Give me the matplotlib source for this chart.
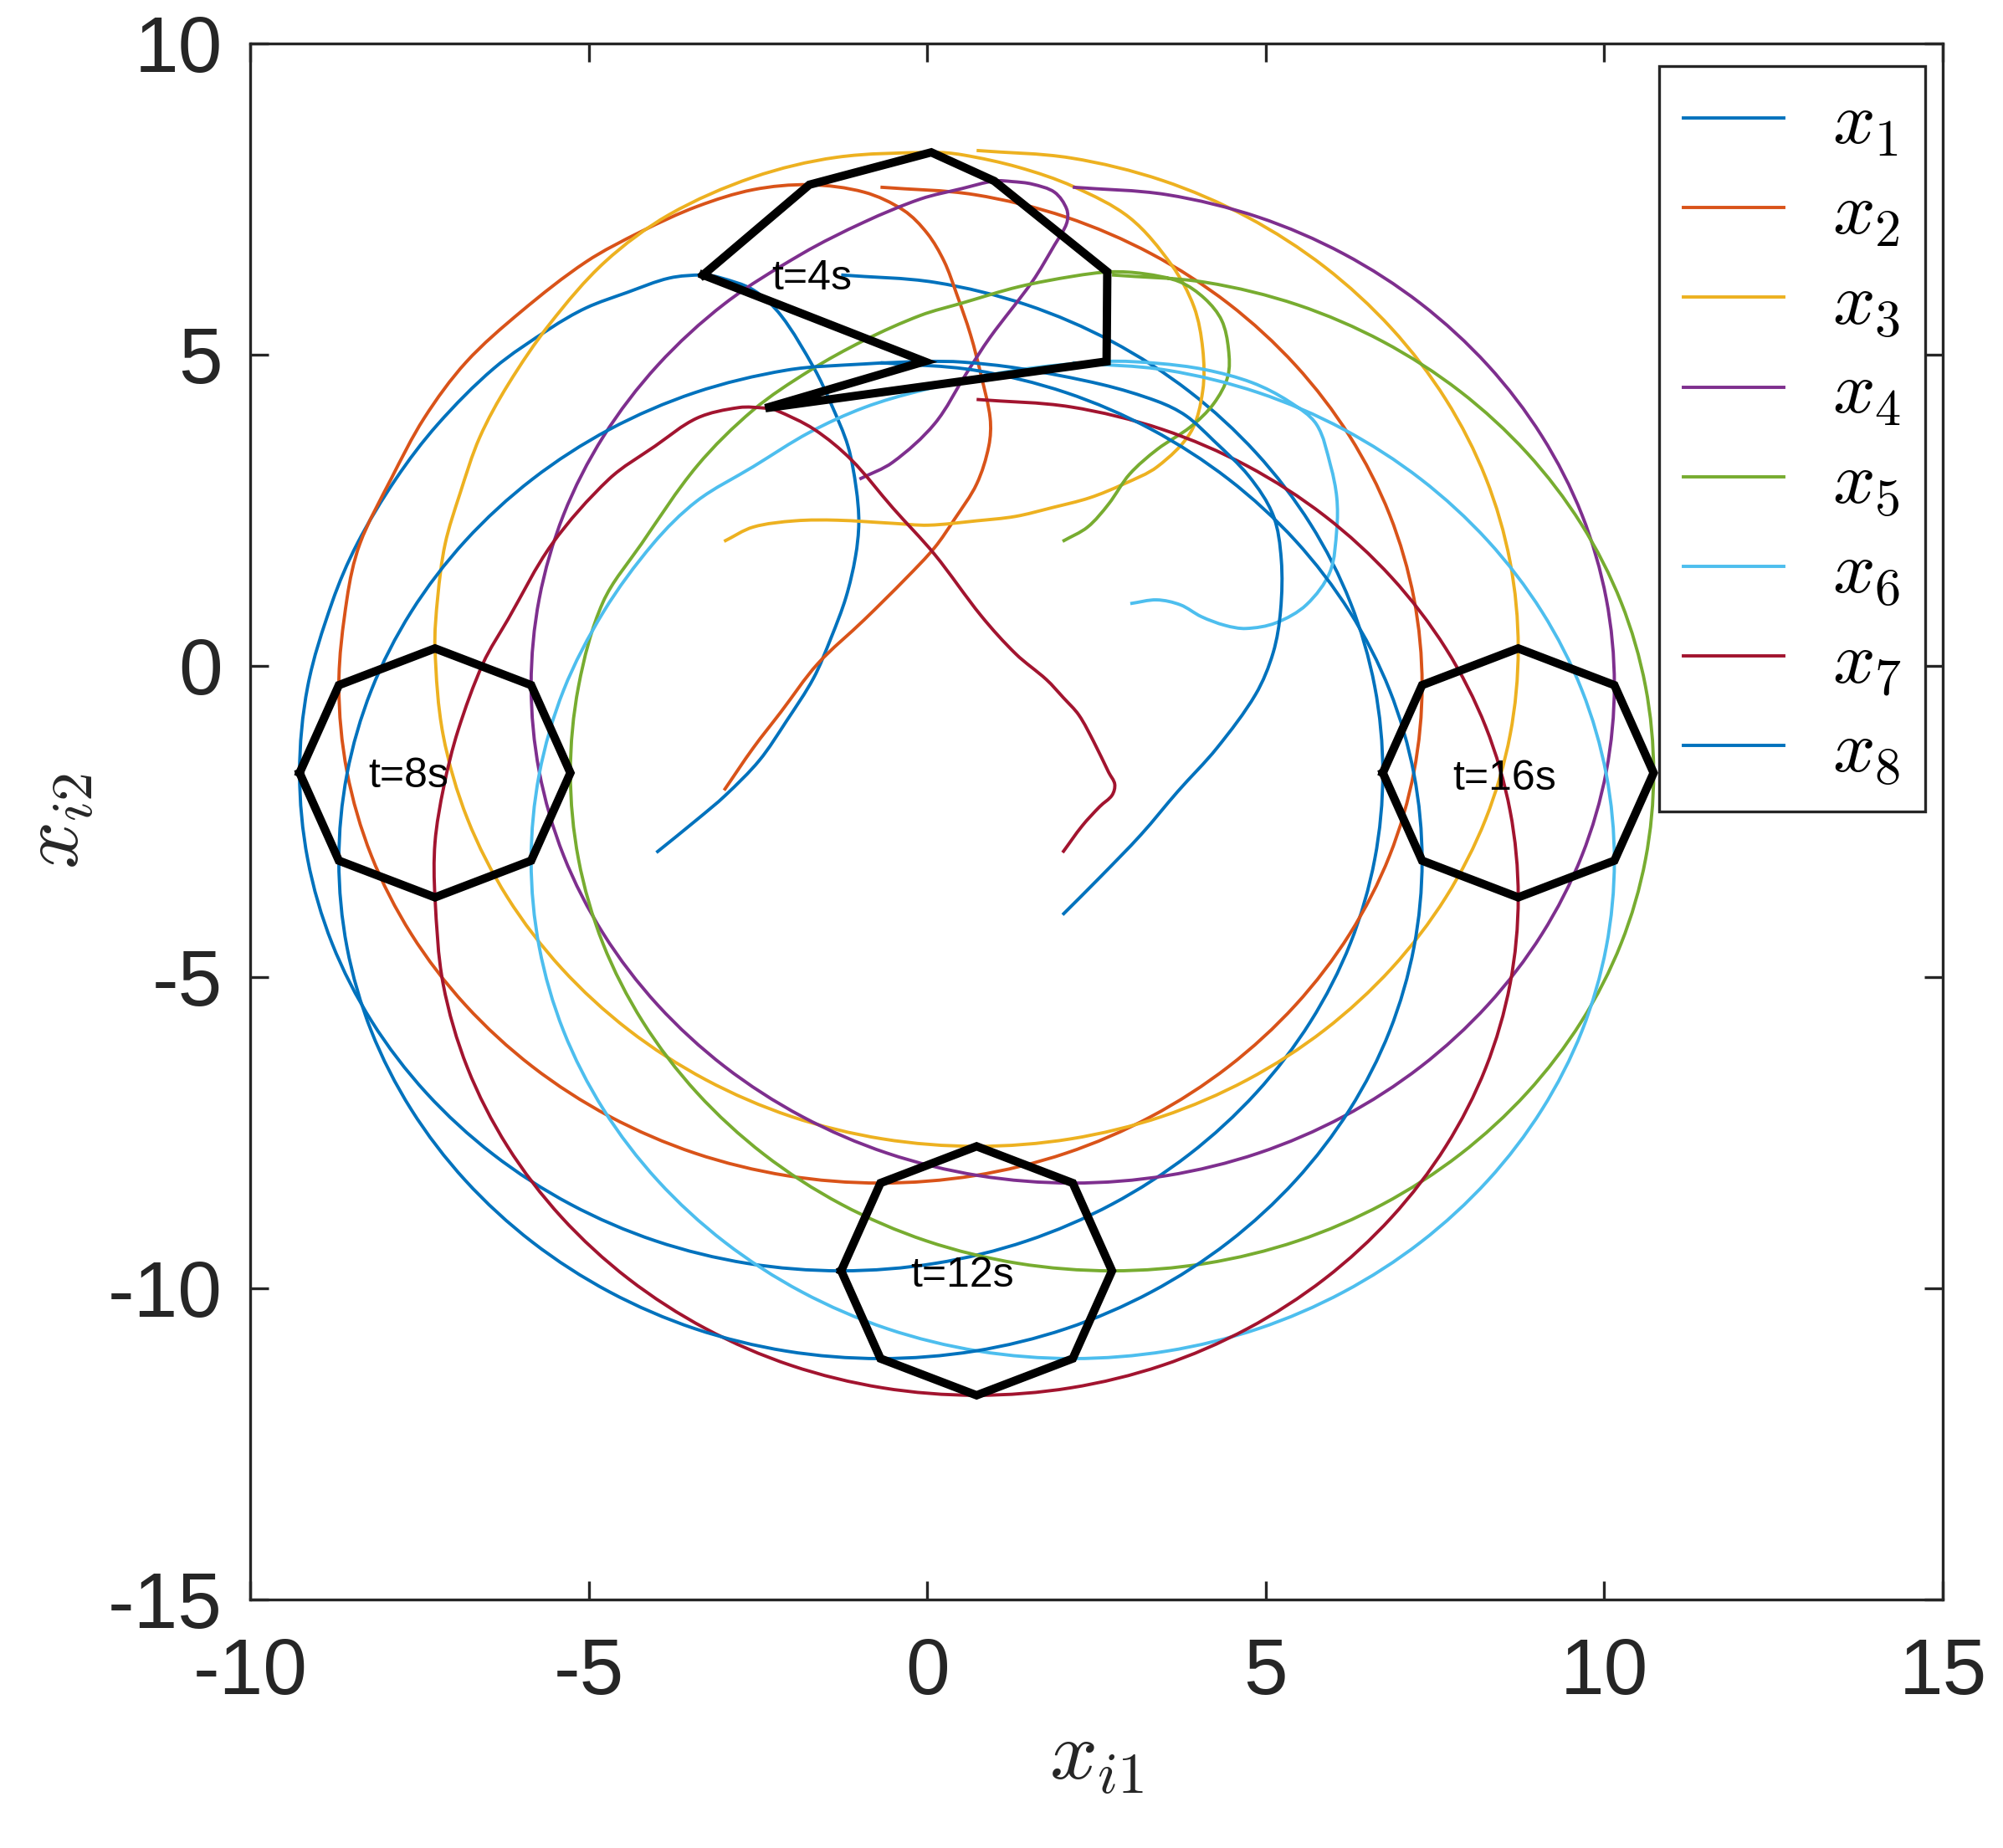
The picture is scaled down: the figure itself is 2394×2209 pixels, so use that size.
import numpy as np
import matplotlib.pyplot as plt
from matplotlib.path import Path
from matplotlib.patches import PathPatch

# trajectories of the eight agents, (x_i1, x_i2), t = 0 .. 20 s
x1_path = [(-4.00, -3.00), (-3.40, -2.47), (-2.98, -2.08), (-2.48, -1.52), (-2.08, -0.89), (-1.68, -0.20),
           (-1.42, 0.45), (-1.20, 1.10), (-1.06, 1.75), (-1.01, 2.30), (-1.05, 2.86), (-1.17, 3.53),
           (-1.42, 4.21), (-1.67, 4.78), (-2.16, 5.63), (-2.57, 6.04), (-3.07, 6.24), (-3.31, 6.28),
           (-3.81, 6.23), (-4.43, 6.00), (-5.04, 5.75), (-5.57, 5.42), (-6.40, 4.78), (-7.23, 3.88),
           (-7.85, 3.00), (-8.42, 1.96), (-8.79, 1.02), (-9.15, -0.33), (-9.27, -1.72), (-9.15, -3.11),
           (-8.79, -4.46), (-8.20, -5.72), (-7.40, -6.86), (-6.41, -7.85), (-5.27, -8.65), (-4.01, -9.24),
           (-2.66, -9.60), (-1.27, -9.72), (0.12, -9.60), (1.47, -9.24), (2.73, -8.65), (3.87, -7.85),
           (4.86, -6.86), (5.66, -5.72), (6.25, -4.46), (6.61, -3.11), (6.73, -1.72), (6.61, -0.33),
           (6.25, 1.02), (5.66, 2.28), (4.86, 3.42), (3.87, 4.41), (2.73, 5.21), (1.47, 5.80),
           (0.12, 6.16), (-1.27, 6.28)]

x2_path = [(-3.00, -2.00), (-2.57, -1.32), (-2.16, -0.74), (-1.62, 0.03), (-0.93, 0.74), (-0.31, 1.41),
           (0.11, 1.90), (0.40, 2.35), (0.73, 2.92), (0.91, 3.53), (0.93, 3.98), (0.80, 4.65),
           (0.64, 5.32), (0.43, 5.99), (0.25, 6.50), (0.00, 6.95), (-0.35, 7.32), (-0.93, 7.61),
           (-1.74, 7.73), (-2.57, 7.65), (-3.40, 7.38), (-4.22, 6.98), (-5.04, 6.49), (-6.00, 5.69),
           (-6.81, 4.88), (-7.43, 3.98), (-7.92, 3.00), (-8.38, 1.96), (-8.57, 1.08), (-8.69, -0.31),
           (-8.57, -1.70), (-8.21, -3.05), (-7.62, -4.31), (-6.82, -5.45), (-5.83, -6.44), (-4.69, -7.24),
           (-3.43, -7.83), (-2.08, -8.19), (-0.69, -8.31), (0.70, -8.19), (2.05, -7.83), (3.31, -7.24),
           (4.45, -6.44), (5.44, -5.45), (6.24, -4.31), (6.83, -3.05), (7.19, -1.70), (7.31, -0.31),
           (7.19, 1.08), (6.83, 2.43), (6.24, 3.69), (5.44, 4.83), (4.45, 5.82), (3.31, 6.62),
           (2.05, 7.21), (0.70, 7.57), (-0.69, 7.69)]

x3_path = [(-3.00, 2.00), (-2.57, 2.23), (-1.95, 2.33), (-1.33, 2.34), (-0.51, 2.29), (0.02, 2.26),
           (0.73, 2.33), (1.30, 2.40), (1.84, 2.54), (2.40, 2.70), (2.90, 2.92), (3.40, 3.20),
           (3.89, 3.75), (4.07, 4.42), (4.07, 5.09), (3.94, 5.77), (3.61, 6.44), (2.99, 7.20),
           (2.16, 7.70), (1.35, 8.01), (0.52, 8.21), (0.06, 8.25), (-1.34, 8.17), (-2.57, 7.85),
           (-3.81, 7.25), (-4.76, 6.49), (-5.57, 5.50), (-6.19, 4.52), (-6.61, 3.67), (-6.90, 2.77),
           (-7.12, 1.96), (-7.23, 1.10), (-7.27, 0.28), (-7.15, -1.11), (-6.79, -2.46), (-6.20, -3.72),
           (-5.40, -4.86), (-4.41, -5.85), (-3.27, -6.65), (-2.01, -7.24), (-0.66, -7.60), (0.73, -7.72),
           (2.12, -7.60), (3.47, -7.24), (4.73, -6.65), (5.87, -5.85), (6.86, -4.86), (7.66, -3.72),
           (8.25, -2.46), (8.61, -1.11), (8.73, 0.28), (8.61, 1.67), (8.25, 3.02), (7.66, 4.28),
           (6.86, 5.42), (5.87, 6.41), (4.73, 7.21), (3.47, 7.80), (2.12, 8.16), (0.73, 8.28)]

x4_path = [(-1.00, 3.00), (-0.51, 3.27), (0.11, 3.89), (0.58, 4.70), (0.93, 5.28), (1.55, 6.17),
           (1.88, 6.76), (2.06, 7.11), (2.06, 7.34), (1.88, 7.61), (1.55, 7.74), (1.26, 7.78),
           (0.99, 7.79), (0.52, 7.67), (-0.10, 7.50), (-0.93, 7.13), (-1.85, 6.62), (-2.99, 5.82),
           (-3.98, 4.83), (-4.78, 3.69), (-5.37, 2.43), (-5.73, 1.08), (-5.85, -0.31), (-5.73, -1.70),
           (-5.37, -3.05), (-4.78, -4.31), (-3.98, -5.45), (-2.99, -6.44), (-1.85, -7.24), (-0.59, -7.83),
           (0.76, -8.19), (2.15, -8.31), (3.54, -8.19), (4.89, -7.83), (6.15, -7.24), (7.29, -6.44),
           (8.28, -5.45), (9.08, -4.31), (9.67, -3.05), (10.03, -1.70), (10.15, -0.31), (10.03, 1.08),
           (9.67, 2.43), (9.08, 3.69), (8.28, 4.83), (7.29, 5.82), (6.15, 6.62), (4.89, 7.21),
           (3.54, 7.57), (2.15, 7.69)]

x5_path = [(2.00, 2.00), (2.37, 2.23), (2.68, 2.60), (2.99, 3.08), (3.40, 3.48), (3.89, 3.84),
           (4.23, 4.21), (4.44, 4.65), (4.45, 5.09), (4.35, 5.55), (4.10, 5.90), (3.73, 6.17),
           (3.20, 6.30), (2.71, 6.33), (2.16, 6.26), (1.35, 6.09), (0.52, 5.83), (-0.10, 5.63),
           (-0.93, 5.23), (-1.74, 4.74), (-2.57, 4.11), (-3.40, 3.21), (-4.22, 1.96), (-4.79, 1.02),
           (-5.15, -0.33), (-5.27, -1.72), (-5.15, -3.11), (-4.79, -4.46), (-4.20, -5.72), (-3.40, -6.86),
           (-2.41, -7.85), (-1.27, -8.65), (-0.01, -9.24), (1.34, -9.60), (2.73, -9.72), (4.12, -9.60),
           (5.47, -9.24), (6.73, -8.65), (7.87, -7.85), (8.86, -6.86), (9.66, -5.72), (10.25, -4.46),
           (10.61, -3.11), (10.73, -1.72), (10.61, -0.33), (10.25, 1.02), (9.66, 2.28), (8.86, 3.42),
           (7.87, 4.41), (6.73, 5.21), (5.47, 5.80), (4.12, 6.16), (2.73, 6.28)]

x6_path = [(3.00, 1.00), (3.39, 1.06), (3.74, 0.98), (4.05, 0.79), (4.40, 0.65), (4.71, 0.60),
           (5.15, 0.69), (5.60, 0.98), (5.95, 1.51), (6.05, 2.20), (6.05, 2.70), (5.96, 3.21),
           (5.75, 3.88), (5.34, 4.25), (4.80, 4.55), (4.10, 4.76), (3.40, 4.86), (2.65, 4.89),
           (1.26, 4.74), (-0.10, 4.42), (-0.93, 4.15), (-1.74, 3.75), (-2.57, 3.20), (-3.40, 2.65),
           (-4.05, 1.96), (-4.78, 0.87), (-5.37, -0.39), (-5.73, -1.74), (-5.85, -3.13), (-5.73, -4.52),
           (-5.37, -5.87), (-4.78, -7.13), (-3.98, -8.27), (-2.99, -9.26), (-1.85, -10.06), (-0.59, -10.65),
           (0.76, -11.01), (2.15, -11.13), (3.54, -11.01), (4.89, -10.65), (6.15, -10.06), (7.29, -9.26),
           (8.28, -8.27), (9.08, -7.13), (9.67, -5.87), (10.03, -4.52), (10.15, -3.13), (10.03, -1.74),
           (9.67, -0.39), (9.08, 0.87), (8.28, 2.01), (7.29, 3.00), (6.15, 3.80), (4.89, 4.39),
           (3.54, 4.75), (2.15, 4.87)]

x7_path = [(2.00, -3.00), (2.29, -2.57), (2.55, -2.26), (2.73, -2.08), (2.77, -1.90), (2.68, -1.71),
           (2.46, -1.22), (2.24, -0.79), (2.01, -0.51), (1.76, -0.22), (1.31, 0.19), (0.80, 0.80),
           (0.11, 1.79), (-0.51, 2.54), (-1.12, 3.31), (-1.67, 3.80), (-2.24, 4.11), (-2.39, 4.14),
           (-2.78, 4.15), (-3.40, 3.98), (-4.02, 3.53), (-4.70, 3.00), (-5.54, 1.96), (-6.19, 0.75),
           (-6.56, 0.04), (-6.93, -1.04), (-7.14, -1.94), (-7.27, -2.84), (-7.27, -3.72), (-7.15, -5.11),
           (-6.79, -6.46), (-6.20, -7.72), (-5.40, -8.86), (-4.41, -9.85), (-3.27, -10.65), (-2.01, -11.24),
           (-0.66, -11.60), (0.73, -11.72), (2.12, -11.60), (3.47, -11.24), (4.73, -10.65), (5.87, -9.85),
           (6.86, -8.86), (7.66, -7.72), (8.25, -6.46), (8.61, -5.11), (8.73, -3.72), (8.61, -2.33),
           (8.25, -0.98), (7.66, 0.28), (6.86, 1.42), (5.87, 2.41), (4.73, 3.21), (3.47, 3.80),
           (2.12, 4.16), (0.73, 4.28)]

x8_path = [(2.00, -4.00), (2.55, -3.40), (3.16, -2.71), (3.70, -2.02), (4.28, -1.32), (4.85, -0.46),
           (5.11, 0.21), (5.22, 0.89), (5.23, 1.71), (5.11, 2.42), (4.75, 3.05), (4.23, 3.62),
           (3.82, 4.02), (3.40, 4.25), (2.58, 4.52), (1.35, 4.78), (0.52, 4.88), (-0.04, 4.89),
           (-0.93, 4.85), (-2.08, 4.75), (-3.43, 4.39), (-4.69, 3.80), (-5.83, 3.00), (-6.82, 2.01),
           (-7.62, 0.87), (-8.21, -0.39), (-8.57, -1.74), (-8.69, -3.13), (-8.57, -4.52), (-8.21, -5.87),
           (-7.62, -7.13), (-6.82, -8.27), (-5.83, -9.26), (-4.69, -10.06), (-3.43, -10.65), (-2.08, -11.01),
           (-0.69, -11.13), (0.70, -11.01), (2.05, -10.65), (3.31, -10.06), (4.45, -9.26), (5.44, -8.27),
           (6.24, -7.13), (6.83, -5.87), (7.19, -4.52), (7.31, -3.13), (7.19, -1.74), (6.83, -0.39),
           (6.24, 0.87), (5.44, 2.01), (4.45, 3.00), (3.31, 3.80), (2.05, 4.39), (0.70, 4.75),
           (-0.69, 4.87)]

# formation snapshots: positions of x_1 .. x_8 at t = 4, 8, 12, 16 s
snap_t4 = [(-3.31, 6.28), (-1.74, 7.73), (0.06, 8.25), (0.99, 7.79), (2.66, 6.33), (2.65, 4.89), (-2.39, 4.14), (-0.04, 4.89)]
snap_t8 = [(-9.27, -1.72), (-8.69, -0.31), (-7.27, 0.28), (-5.85, -0.31), (-5.27, -1.72), (-5.85, -3.13), (-7.27, -3.72), (-8.69, -3.13)]
snap_t12 = [(-1.27, -9.72), (-0.69, -8.31), (0.73, -7.72), (2.15, -8.31), (2.73, -9.72), (2.15, -11.13), (0.73, -11.72), (-0.69, -11.13)]
snap_t16 = [(6.73, -1.72), (7.31, -0.31), (8.73, 0.28), (10.15, -0.31), (10.73, -1.72), (10.15, -3.13), (8.73, -3.72), (7.31, -3.13)]
snap_names = ['t=4s', 't=8s', 't=12s', 't=16s']

paths = [x1_path, x2_path, x3_path, x4_path, x5_path, x6_path, x7_path, x8_path]
names = [r'$x_{%d}\!\!$' % (i + 1) for i in range(8)]
colors = ['#0072BD', '#D95319', '#EDB120', '#7E2F8E', '#77AC30', '#4DBEEE', '#A2142F', '#0072BD']


def smooth_path(pts):
    # smooth curve through the read points (bezier pieces, like a spline plot)
    p = np.asarray(pts, float)
    d = np.linalg.norm(np.diff(p, axis=0), axis=1)
    n = len(p)
    tang = np.zeros_like(p)
    tang[0] = (p[1] - p[0]) / d[0]
    tang[-1] = (p[-1] - p[-2]) / d[-1]
    for i in range(1, n - 1):
        tang[i] = (p[i + 1] - p[i - 1]) / (d[i - 1] + d[i])
    verts = [p[0]]
    codes = [Path.MOVETO]
    for i in range(n - 1):
        verts += [p[i] + tang[i] * d[i] / 3, p[i + 1] - tang[i + 1] * d[i] / 3, p[i + 1]]
        codes += [Path.CURVE4] * 3
    return Path(verts, codes)


plt.rcParams['font.family'] = ['Liberation Sans', 'DejaVu Sans']
plt.rcParams['mathtext.fontset'] = 'cm'
plt.rcParams['axes.unicode_minus'] = False
axcol = '#262626'

fig = plt.figure(figsize=(11.97, 11.045), dpi=200)
ax = fig.add_axes([0.1249, 0.1345, 0.8450, 0.8420])

handles = []
for p, c, n in zip(paths, colors, names):
    ax.add_patch(PathPatch(smooth_path(p), facecolor='none', edgecolor=c, lw=1.4))
    h, = ax.plot([], [], color=c, lw=1.4, label=n)
    handles.append(h)

# where the t=... labels sit
text_pos = [(-2.30, 6.22), (-8.26, -1.77), (-0.25, -9.80), (7.76, -1.82)]
for snap, name, (tx, ty) in zip([snap_t4, snap_t8, snap_t12, snap_t16], snap_names, text_pos):
    s = np.array(snap + snap[:1])
    ax.plot(s[:, 0], s[:, 1], color='k', lw=3.6, solid_joinstyle='miter', zorder=5)
    ax.text(tx, ty, name, fontsize=18, ha='left', va='center', zorder=6)

ax.set_xlim(-10, 15)
ax.set_ylim(-15, 10)
ax.set_xticks(np.arange(-10, 16, 5))
ax.set_yticks(np.arange(-15, 11, 5))
ax.tick_params(direction='in', length=8, width=1.2, colors=axcol, labelsize=34,
               top=True, right=True)
ax.tick_params(axis='x', pad=16)
ax.tick_params(axis='y', pad=12)
for sp in ax.spines.values():
    sp.set_linewidth(1.2)
    sp.set_color(axcol)

ax.set_xlabel(r'$x_{i1}$', fontsize=36, color=axcol, labelpad=3)
ax.set_ylabel(r'$x_{i2}$', fontsize=36, color=axcol, labelpad=5)

leg = ax.legend(handles=handles, loc='upper right', bbox_to_anchor=(0.9896, 0.9855), borderaxespad=0,
                fontsize=32, handlelength=1.35, handletextpad=0.65, labelspacing=0.26,
                fancybox=False, framealpha=1, edgecolor=axcol, borderpad=0.32)
leg.get_frame().set_linewidth(1.2)

fig.savefig('out.png', dpi=200, facecolor='white')
